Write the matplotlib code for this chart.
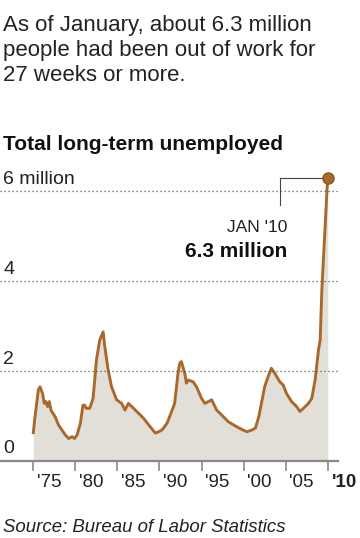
import matplotlib
matplotlib.use('Agg')
from matplotlib import pyplot as plt

# long-term unemployed (27 weeks or more), millions
years = [1975.0, 1975.2, 1975.6, 1975.8, 1976.1, 1976.3, 1976.5, 1976.7, 1976.9,
         1977.1, 1977.6, 1978.0, 1978.4, 1978.8, 1979.2, 1979.6, 1979.9, 1980.2,
         1980.6, 1980.9, 1981.1, 1981.3, 1981.7, 1982.1, 1982.3, 1982.5, 1982.9,
         1983.3, 1983.5, 1983.9, 1984.3, 1984.9, 1985.5, 1985.9, 1986.3, 1986.7,
         1987.3, 1988.1, 1988.9, 1989.5, 1989.9, 1990.3, 1990.9, 1991.5, 1991.8,
         1992.2, 1992.4, 1992.6, 1993.0, 1993.2, 1993.4, 1994.0, 1994.4, 1995.0,
         1995.4, 1995.8, 1996.2, 1996.8, 1997.4, 1998.2, 1999.0, 1999.8, 2000.4,
         2001.0, 2001.4, 2001.8, 2002.2, 2002.5, 2002.9, 2003.3, 2003.7, 2004.3,
         2004.7, 2005.1, 2005.7, 2006.3, 2006.7, 2007.1, 2007.7, 2008.1, 2008.5,
         2008.9, 2009.1, 2009.3, 2009.9, 2010.0]
values = [0.63, 0.98, 1.58, 1.65, 1.50, 1.28, 1.32, 1.21, 1.32,
          1.13, 0.98, 0.80, 0.69, 0.58, 0.50, 0.54, 0.50, 0.58,
          0.84, 1.24, 1.24, 1.17, 1.17, 1.39, 1.80, 2.24, 2.69,
          2.87, 2.54, 2.02, 1.65, 1.36, 1.28, 1.13, 1.28, 1.21,
          1.10, 0.95, 0.76, 0.62, 0.65, 0.69, 0.84, 1.13, 1.28,
          1.95, 2.17, 2.21, 1.95, 1.73, 1.80, 1.76, 1.65, 1.39,
          1.28, 1.32, 1.36, 1.13, 1.02, 0.87, 0.78, 0.70, 0.65,
          0.69, 0.73, 0.98, 1.36, 1.65, 1.87, 2.06, 1.95, 1.76,
          1.69, 1.50, 1.32, 1.21, 1.10, 1.17, 1.28, 1.39, 1.80,
          2.47, 2.69, 3.80, 5.98, 6.30]

tick_years = [1975, 1980, 1985, 1990, 1995, 2000, 2005, 2010]
tick_labels = ["'75", "'80", "'85", "'90", "'95", "'00", "'05", "'10"]
grid_values = [2, 4, 6]
grid_labels = ['2', '4', '6 million']

LINE = '#a9692c'
FILL = '#e2dfd9'
FONT = 'Liberation Sans'

plt.rcParams['font.family'] = FONT

fig = plt.figure(figsize=(3.6, 5.38), dpi=100)
W, H = 360, 538

# axes placed in pixel terms: x 0..338, y 168.5..461
ax = fig.add_axes([0, (H - 461) / H, 338 / W, 292.5 / H])
ax.set_xlim(1971.04, 2011.22)
ax.set_ylim(0, 6.5)
ax.axis('off')

ax.fill_between(years, values, 0, color=FILL, lw=0)
ax.plot(years, values, color=LINE, lw=2.1, solid_joinstyle='round')

for v, lab in zip(grid_values, grid_labels):
    ax.axhline(v, color='#555555', lw=0.9, ls=(0, (1, 2.2)), clip_on=False)
    ax.text(1971.4, v + 0.15, lab, fontsize=14, color='#222222', va='baseline', ha='left')

ax.axhline(0, color='#888888', lw=1.6, clip_on=False)
ax.text(1971.4, 0.17, '0', fontsize=14, color='#222222', va='baseline', ha='left')

for yr, lab in zip(tick_years, tick_labels):
    ax.plot([yr, yr], [0, -0.2], color='#888888', lw=1.2, clip_on=False)
    ax.text(yr + 0.45, -0.47, lab, fontsize=13.5, color='#222222', ha='left', va='center',
            fontweight='bold' if lab == "'10" else 'normal')

# end point annotation
ax.plot([2010.0], [6.30], 'o', ms=8, color=LINE, mec='#8a5220', mew=1, zorder=5)
ax.plot([2004.3, 2010.0], [6.30, 6.30], color='#444444', lw=0.8, zorder=4)
ax.plot([2004.3, 2004.3], [6.30, 5.69], color='#444444', lw=0.8, zorder=4)
ax.text(2005.2, 5.2, "JAN '10", fontsize=12.5, color='#222222', ha='right', va='center')
ax.text(2005.2, 4.66, '6.3 million', fontsize=15, fontweight='bold', color='#111111',
        ha='right', va='center')

fig.text(3 / W, 1 - 31 / H, 'As of January, about 6.3 million',
         fontsize=16, color='#222222', ha='left', va='baseline')
fig.text(3 / W, 1 - 56 / H, 'people had been out of work for',
         fontsize=16, color='#222222', ha='left', va='baseline')
fig.text(3 / W, 1 - 81 / H, '27 weeks or more.',
         fontsize=16, color='#222222', ha='left', va='baseline')
fig.text(3 / W, 1 - 150 / H, 'Total long-term unemployed', fontsize=15, fontweight='bold',
         color='#111111', ha='left', va='baseline')
fig.text(3 / W, 1 - 532 / H, 'Source: Bureau of Labor Statistics', fontsize=13.4,
         style='italic', color='#222222', ha='left', va='baseline')

fig.savefig('out.png', dpi=100, facecolor='white')
